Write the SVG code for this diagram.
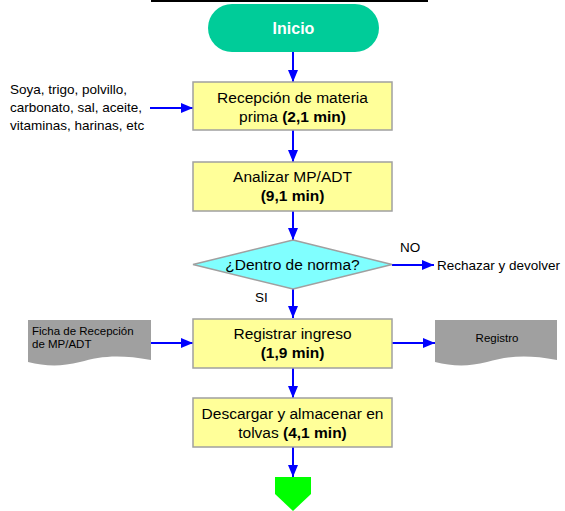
<svg xmlns="http://www.w3.org/2000/svg" width="565" height="511" viewBox="0 0 565 511">
  <defs>
    <style>
      text { font-family: "Liberation Sans", Arial, sans-serif; fill: #000; }
      .proc { fill: #FFFF99; stroke: #A0A0A0; stroke-width: 1.5; }
      .dec { fill: #80FFFF; stroke: #A0A0A0; stroke-width: 1.5; }
      .doc { fill: #A0A0A0; stroke: none; }
      .lbl { font-size: 15.5px; text-anchor: middle; }
      .b { font-weight: bold; }
      .side { font-size: 13.5px; }
      .small { font-size: 11.5px; }
      .conn { stroke: #0000FF; stroke-width: 2; fill: none; marker-end: url(#arrow); }
    </style>
    <marker id="arrow" viewBox="0 0 12 10" refX="12" refY="5" markerWidth="12" markerHeight="10" markerUnits="userSpaceOnUse" orient="auto">
      <path d="M0,0 L12,5 L0,10 Z" fill="#0000FF"/>
    </marker>
  </defs>

  <!-- page rule -->
  <rect x="151" y="0" width="277" height="2" fill="#000"/>

  <!-- connectors -->
  <g id="connectors">
    <line class="conn" x1="293" y1="52" x2="293" y2="82"/>
    <line class="conn" x1="150" y1="108" x2="193" y2="108"/>
    <line class="conn" x1="293" y1="130" x2="293" y2="162"/>
    <line class="conn" x1="293" y1="211" x2="293" y2="240"/>
    <line class="conn" x1="392" y1="265" x2="434" y2="265"/>
    <line class="conn" x1="293" y1="289" x2="293" y2="318"/>
    <line class="conn" x1="151" y1="343" x2="193" y2="343"/>
    <line class="conn" x1="392" y1="343" x2="435" y2="343"/>
    <line class="conn" x1="293" y1="368" x2="293" y2="398"/>
    <line class="conn" x1="293" y1="447" x2="293" y2="477"/>
    <text x="400" y="252" class="side">NO</text>
    <text x="255" y="302" class="side">SI</text>
  </g>

  <g id="inicio">
    <rect x="208" y="4" width="171" height="48" rx="24" ry="24" fill="#00CC99"/>
    <text x="293.5" y="34" class="lbl b" style="fill:#fff;font-size:16px">Inicio</text>
  </g>

  <g id="insumos">
    <text x="10" y="94" class="side">Soya, trigo, polvillo,</text>
    <text x="10" y="112" class="side">carbonato, sal, aceite,</text>
    <text x="10" y="130" class="side">vitaminas, harinas, etc</text>
  </g>

  <g id="recepcion">
    <rect x="193" y="82" width="199" height="48" class="proc"/>
    <text x="292.5" y="103" class="lbl">Recepción de materia</text>
    <text x="292.5" y="122" class="lbl">prima <tspan class="b">(2,1 min)</tspan></text>
  </g>

  <g id="analizar">
    <rect x="193" y="162" width="199" height="49" class="proc"/>
    <text x="292.5" y="182" class="lbl">Analizar MP/ADT</text>
    <text x="292.5" y="201" class="lbl b">(9,1 min)</text>
  </g>

  <g id="norma">
    <polygon points="293,240 392,264.5 293,289 193,264.5" class="dec"/>
    <text x="292.5" y="270" class="lbl">¿Dentro de norma?</text>
  </g>

  <g id="rechazar">
    <text x="437" y="270" class="side">Rechazar y devolver</text>
  </g>

  <g id="ficha">
    <path d="M28,320 H151 V360 C120,354 100,356 80,362 C60,367 45,366 28,362 Z" class="doc"/>
    <text x="32" y="335" class="small">Ficha de Recepción</text>
    <text x="32" y="348" class="small">de MP/ADT</text>
  </g>

  <g id="registrar">
    <rect x="193" y="319" width="199" height="49" class="proc"/>
    <text x="292.5" y="339" class="lbl">Registrar ingreso</text>
    <text x="292.5" y="358" class="lbl b">(1,9 min)</text>
  </g>

  <g id="registro">
    <path d="M435,320 H557 V360 C527,354 507,356 487,362 C467,367 452,366 435,362 Z" class="doc"/>
    <text x="497" y="342" class="small" text-anchor="middle">Registro</text>
  </g>

  <g id="descargar">
    <rect x="193" y="398" width="199" height="49" class="proc"/>
    <text x="292.5" y="419" class="lbl">Descargar y almacenar en</text>
    <text x="292.5" y="438" class="lbl">tolvas <tspan class="b">(4,1 min)</tspan></text>
  </g>

  <g id="fin">
    <polygon points="275,477 311,477 311,494 293,511 275,494" fill="#00FF00"/>
  </g>
</svg>
